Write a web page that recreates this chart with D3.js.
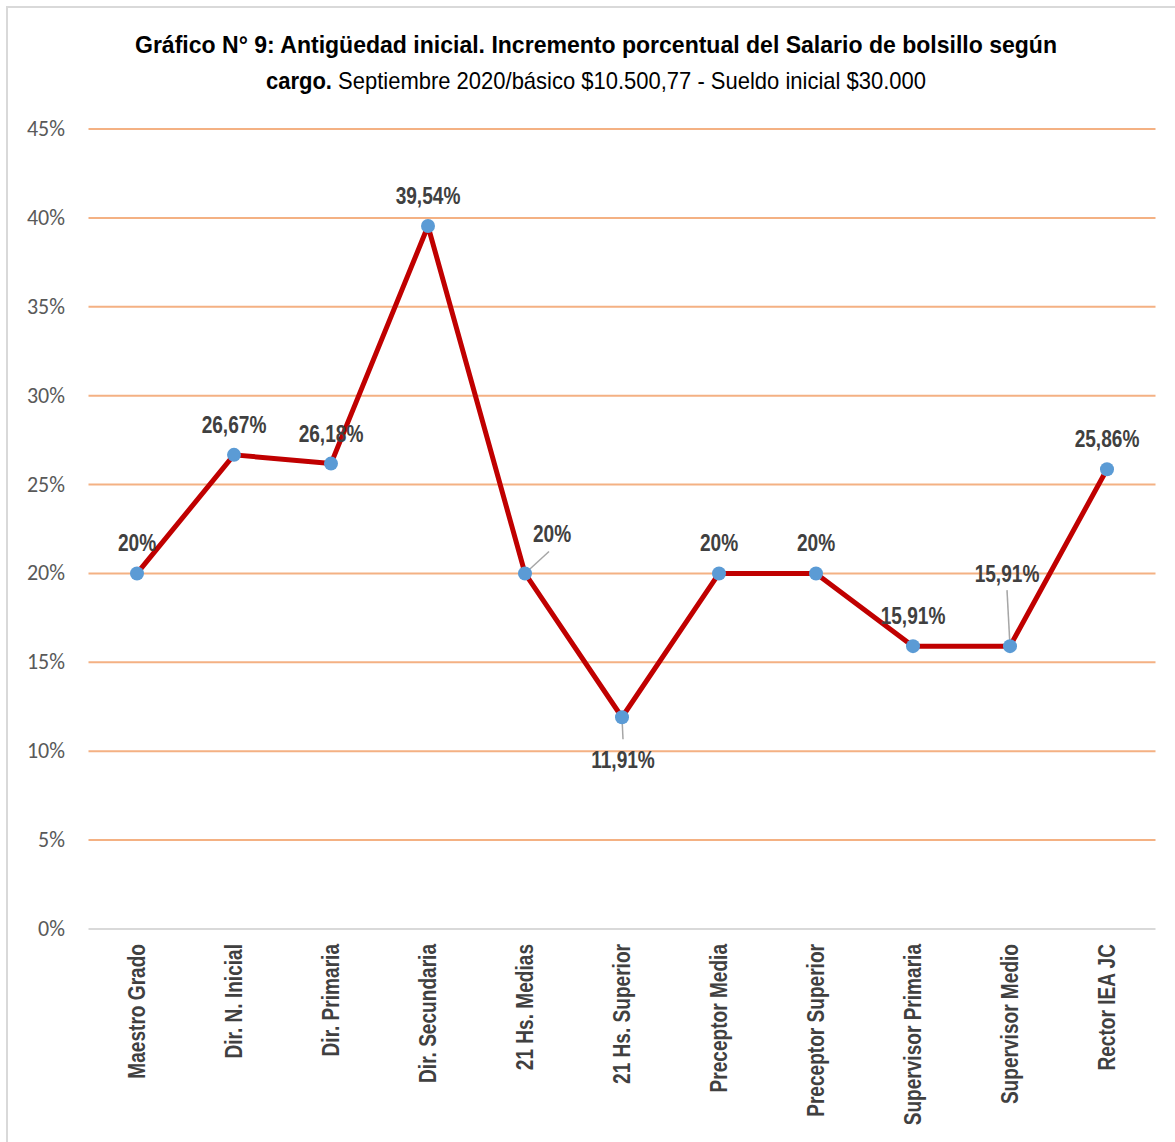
<!DOCTYPE html>
<html><head><meta charset="utf-8">
<script src="https://cdn.jsdelivr.net/npm/d3@7/dist/d3.min.js"></script>
<style>body{margin:0;background:#fff}svg{display:block}</style>
</head><body>
<script>
const categories = ["Maestro Grado","Dir. N. Inicial","Dir. Primaria","Dir. Secundaria","21 Hs. Medias","21 Hs. Superior","Preceptor Media","Preceptor Superior","Supervisor Primaria","Supervisor Medio","Rector IEA JC"];
const values = [20, 26.67, 26.18, 39.54, 20, 11.91, 20, 20, 15.91, 15.91, 25.86];
const labels = ["20%","26,67%","26,18%","39,54%","20%","11,91%","20%","20%","15,91%","15,91%","25,86%"];
// label offsets relative to point (dx, dy), and leader-line flag
const labelOffsets = [[0,-22,false],[0,-22,false],[0,-22,false],[0,-22,false],[27,-31,true],[1,51,true],[0,-22,false],[0,-22,false],[0,-22,false],[-3,-64,true],[0,-22,false]];
const yTicks = [0,5,10,15,20,25,30,35,40,45];
const titleBold1 = "Gráfico N° 9: Antigüedad inicial. Incremento porcentual del Salario de bolsillo según";
const titleBold2 = "cargo.";
const titleNormal2 = " Septiembre 2020/básico $10.500,77 - Sueldo inicial $30.000";

const W = 1175, H = 1142;
const svg = d3.select("body").append("svg").attr("width", W).attr("height", H);
const sans = "'Liberation Sans',Arial,sans-serif";
const SX = 0.83;

// border
svg.append("rect").attr("x",7).attr("y",7).attr("width",W+10).attr("height",H+10)
  .attr("fill","none").attr("stroke","#D9D9D9").attr("stroke-width",2);

const x = d3.scaleBand().domain(categories).range([88.5,1155.5]);
const y = d3.scaleLinear().domain([0,45]).range([929,129]);

// title
svg.append("text").attr("x",596).attr("y",53).attr("text-anchor","middle")
  .attr("font-family",sans).attr("font-weight","bold").attr("font-size",24).attr("fill","#000")
  .attr("textLength",922).attr("lengthAdjust","spacingAndGlyphs")
  .text(titleBold1);
const t2 = svg.append("text").attr("x",596).attr("y",89).attr("text-anchor","middle")
  .attr("font-family",sans).attr("font-size",24).attr("fill","#000")
  .attr("textLength",660).attr("lengthAdjust","spacingAndGlyphs");
t2.append("tspan").attr("font-weight","bold").text(titleBold2);
t2.append("tspan").text(titleNormal2);

// gridlines
svg.append("g").selectAll("line").data(yTicks).join("line")
  .attr("x1",88.5).attr("x2",1155.5)
  .attr("y1",d=>y(d)).attr("y2",d=>y(d))
  .attr("stroke",d=>d===0?"#D9D9D9":"#F4B183").attr("stroke-width",2);

// y axis labels
svg.append("g").selectAll("text").data(yTicks).join("text")
  .attr("x",65).attr("y",d=>y(d)+7).attr("text-anchor","end")
  .attr("font-family","Carlito,Calibri,'Open Sans',sans-serif").attr("font-size",22).attr("fill","#595959")
  .text(d=>d+"%");

// x labels
svg.append("g").selectAll("text").data(categories).join("text")
  .attr("transform",d=>`translate(${x(d)+x.bandwidth()/2+8},944) rotate(-90) scale(${SX},1)`)
  .attr("text-anchor","end")
  .attr("font-family",sans).attr("font-weight","bold").attr("font-size",23).attr("fill","#404040")
  .text(d=>d);

const cx = (d,i)=>x(categories[i])+x.bandwidth()/2;

// line
svg.append("path").datum(values)
  .attr("d", d3.line().x((d,i)=>cx(d,i)).y(d=>y(d)))
  .attr("fill","none").attr("stroke","#C00000").attr("stroke-width",5).attr("stroke-linejoin","round");

// leader lines
const leaders = values.map((v,i)=>({v,i,o:labelOffsets[i]})).filter(d=>d.o[2]);
svg.append("g").selectAll("line").data(leaders).join("line")
  .attr("x1",d=>cx(d.v,d.i)).attr("y1",d=>y(d.v))
  .attr("x2",d=>cx(d.v,d.i)+(d.i===4?24:d.o[0])).attr("y2",d=>y(d.v)+(d.i===4?-22:d.i===5?22:-56))
  .attr("stroke","#A6A6A6").attr("stroke-width",1.5);

// markers
svg.append("g").selectAll("circle").data(values).join("circle")
  .attr("cx",(d,i)=>cx(d,i)).attr("cy",d=>y(d)).attr("r",7).attr("fill","#5B9BD5");

// data labels
svg.append("g").selectAll("text").data(values).join("text")
  .attr("transform",(d,i)=>`translate(${cx(d,i)+labelOffsets[i][0]},${y(d)+labelOffsets[i][1]}) scale(${SX},1)`)
  .attr("text-anchor","middle").attr("font-family",sans).attr("font-weight","bold")
  .attr("font-size",23).attr("fill","#404040")
  .text((d,i)=>labels[i]);
</script>
</body></html>
